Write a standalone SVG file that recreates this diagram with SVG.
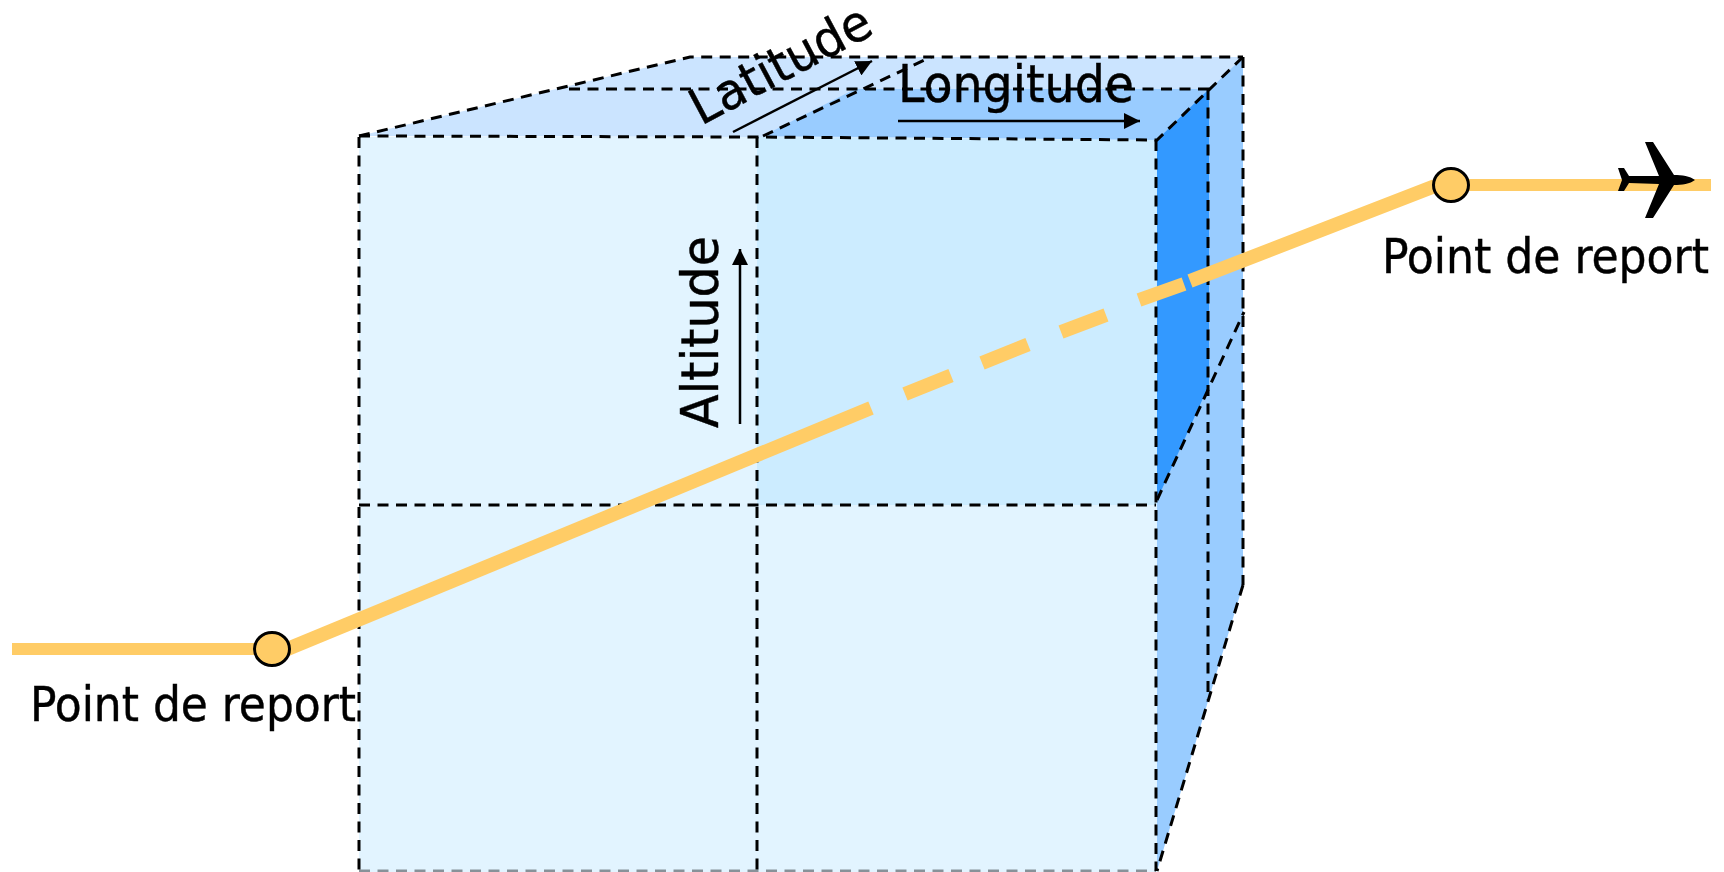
<svg xmlns="http://www.w3.org/2000/svg" width="1724" height="872" viewBox="0 0 1724 872">
<style>
.d{fill:none;stroke:#000;stroke-width:3;stroke-dasharray:11 7.5}
.a{fill:none;stroke:#000;stroke-width:2.5}
.r{fill:none;stroke:#FFCC66;stroke-width:12}
.s{fill:none;stroke:#FFCC66;stroke-width:14}
.p{fill:#FFCC66;stroke:#000;stroke-width:3}
.t{font-family:"DejaVu Sans Condensed","DejaVu Sans",sans-serif;font-stretch:condensed;fill:#000;stroke:#000;stroke-width:.4}
</style>
<defs><marker id="h" markerUnits="userSpaceOnUse" markerWidth="17" markerHeight="16" refX="16" refY="8" orient="auto"><path d="M0 0L16 8L0 16Z" fill="#000"/></marker></defs>
<g id="cube-faces">
<rect x="359" y="137" width="798" height="735" fill="#E2F4FF"/>
<path d="M757 137L1157 140L1157 505L757 505Z" fill="#CCECFF"/>
<path d="M359 136L690 57L1243 57L1158 139L757 137Z" fill="#CBE4FF"/>
<path d="M763 136L855 89L1210 89L1158 140Z" fill="#99CCFF"/>
<path d="M1157 140L1243 57L1243 585L1157 871Z" fill="#99CCFF"/>
<path d="M1157 140L1209 89L1209 385L1157 500Z" fill="#3399FF"/>
</g>
<g id="connectors">
<path class="d" d="M359 137V871"/><path class="d" d="M757 137V871"/><path class="d" d="M1156 140V871"/>
<path class="d" d="M1208 89V700"/><path class="d" d="M1243 57V585"/>
<path class="d" d="M359 505H1156"/><path class="d" d="M359 871H1156" opacity=".4"/>
<path class="d" d="M359 136L757 137L1157 140L1243 57"/>
<path class="d" d="M359 136L690 57H1243"/>
<path class="d" d="M569 89H1210"/>
<path class="d" d="M763 136L931 57"/>
<path class="d" d="M1157 500L1244 312"/>
<path class="d" d="M1243 585L1157 871"/>
<path class="a" d="M898 121H1140" marker-end="url(#h)"/>
<path class="a" d="M740 424V249" marker-end="url(#h)"/>
<path class="a" d="M733 132L872 61" marker-end="url(#h)"/>
<path class="r" d="M12 649H272"/>
<path class="s" d="M285 650L871 408"/>
<path class="s" d="M905 394L951 375.5M982 363L1028 344.5M1061 332L1106 315M1139 300L1184 284M1190 281L1435 186"/>
<path class="r" d="M1454 185H1711"/>
</g>
<g id="point-left"><ellipse class="p" cx="272" cy="649" rx="17.5" ry="16.5"/><text class="t" x="30" y="721" font-size="48" textLength="326" lengthAdjust="spacingAndGlyphs">Point de report</text></g>
<g id="point-right"><ellipse class="p" cx="1451" cy="185" rx="17.5" ry="16.5"/><text class="t" x="1382" y="273" font-size="48" textLength="327" lengthAdjust="spacingAndGlyphs">Point de report</text></g>
<g id="plane"><path fill="#000" d="M1695 180C1690 176 1682 175 1674 175L1653 142L1645 142L1659 176L1629 176L1624 168L1618 168L1622 180L1618 191L1624 191L1629 183L1659 184L1645 218L1653 218L1674 185C1682 185 1690 184 1695 180Z"/></g>
<g id="label-latitude"><text class="t" transform="translate(701 126) rotate(-28)" font-size="50" textLength="198" lengthAdjust="spacingAndGlyphs">Latitude</text></g>
<g id="label-longitude"><text class="t" x="898" y="102" font-size="51" textLength="236" lengthAdjust="spacingAndGlyphs">Longitude</text></g>
<g id="label-altitude"><text class="t" transform="translate(718 428) rotate(-90)" font-size="51" textLength="192" lengthAdjust="spacingAndGlyphs">Altitude</text></g>
</svg>
